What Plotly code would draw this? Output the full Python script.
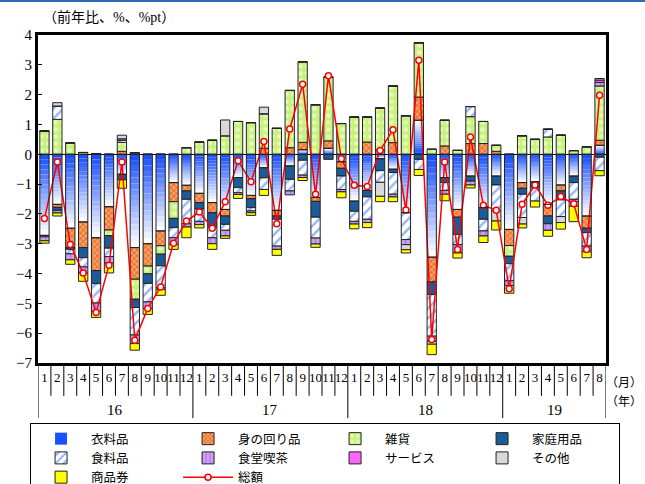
import plotly.graph_objects as go

# ---------------- data ----------------
months = ["1","2","3","4","5","6","7","8","9","10","11","12",
          "1","2","3","4","5","6","7","8","9","10","11","12",
          "1","2","3","4","5","6","7","8","9","10","11","12",
          "1","2","3","4","5","6","7","8"]
years = ["16", "17", "18", "19"]
year_lengths = [12, 12, 12, 8]

clothing = [-2.72,-1.68,-2.48,-2.27,-2.80,-1.76,-0.67,-3.13,-3.00,-2.57,-0.95,-1.04,
            -1.31,-1.62,-1.85,-0.78,-1.38,-0.45,-1.88,-0.39,0.15,-1.45,0.20,-0.25,
            -1.57,-1.21,-0.15,-0.50,-1.96,1.14,-3.45,-0.78,-1.85,-0.73,-1.79,-0.73,
            -2.52,-0.95,-0.92,-1.68,-1.03,-0.73,-2.07,0.30]
accessories = [0,-0.10,-0.65,-0.86,-1.10,-0.78,0.10,-1.06,-0.75,-0.50,-0.64,-0.19,
               -0.31,-0.34,-0.22,0,-0.11,0.20,-0.19,0.22,0.25,-0.13,0.25,-0.22,
               0,0.41,0.15,0.39,0,0.78,-0.83,0.28,-0.26,0.36,0.36,0.10,
               -0.54,-0.19,0,-0.39,-0.20,0,-0.41,0.17]
sundries = [0.78,1.17,0.38,0.06,0.02,-0.19,0.30,-0.67,-0.26,-0.28,-0.56,0.22,
            0.41,0.47,0.62,1.10,1.06,1.16,0.87,1.92,2.70,1.66,2.13,1.03,
            1.25,0.84,1.40,1.90,1.29,1.82,0.17,0.86,0.13,0.90,0.74,0.20,
            -0.36,0.62,0.50,0.58,0.64,0.12,0.25,1.82]
household = [0,-0.10,-0.06,-0.34,-0.44,-0.42,-0.19,-0.28,-0.32,-0.39,-0.31,-0.28,
             -0.22,-0.50,-0.28,-0.34,-0.30,-0.34,-0.11,-0.45,-0.20,-0.53,-0.17,-0.26,
             -0.34,-0.22,-0.40,-0.11,0,-0.17,-0.42,-0.17,-0.58,-0.17,-0.39,-0.30,
             -0.25,-0.20,-0.20,-0.26,-0.30,-0.22,-0.15,-0.10]
food = [-0.05,0.45,-0.15,-0.31,-0.65,-0.28,0.07,-0.92,-0.62,-0.73,-0.34,-0.82,
        -0.41,-0.34,-0.20,-0.17,-0.11,-0.39,-0.90,-0.39,-0.50,-0.70,0,-0.45,
        -0.34,-0.75,-0.39,-0.73,-0.90,-0.34,-1.40,-0.26,-0.34,0.34,-0.39,-0.87,
        -0.57,-0.78,-0.45,0.26,-0.56,-0.56,-0.45,-0.45]
restaurant = [-0.13,-0.09,-0.20,-0.20,-0.28,-0.22,0,-0.29,-0.22,-0.06,-0.22,-0.11,
              -0.11,-0.20,-0.19,-0.06,-0.06,0,-0.11,-0.13,-0.08,-0.20,0,-0.08,
              -0.09,-0.11,0,-0.09,-0.17,0,-0.17,-0.13,-0.28,-0.13,-0.17,0,
              -0.16,0,0,-0.22,0,-0.08,-0.19,0.12]
service = [0,0,0,0,0,0,0.05,0.05,0,0,0,0,
           0,0,0,0,0,0,0,0,0,0,0,0,
           0,0,0,0,0,0,0,0,0,0,0,0,
           0,0,0,0,0,0,0,0.08]
other = [0,0.11,0,0,0,0,0.12,0,0,0,0,0,
         0,0,0.53,0,0,0.22,0,0,0,0,0,0,
         0,0,-0.47,0,-0.17,0,-0.10,0,0,0,0,-0.34,
         0,-0.22,0,0,-0.20,-0.15,0,0.05]
giftcert = [-0.08,-0.10,-0.15,-0.28,-0.20,-0.33,-0.28,-0.22,-0.20,-0.20,-0.17,-0.36,
            -0.11,-0.19,-0.08,-0.13,-0.09,-0.20,-0.20,0,-0.10,-0.11,0,-0.20,
            -0.16,-0.17,-0.18,-0.16,-0.11,-0.20,-0.35,-0.22,-0.17,-0.10,-0.22,-0.30,
            -0.26,-0.13,-0.20,-0.20,-0.22,-0.52,-0.20,-0.17]
total = [-2.15,-0.26,-3.03,-3.98,-5.31,-3.72,-0.26,-6.24,-5.17,-4.45,-2.98,-2.24,
         -1.94,-2.48,-1.59,-0.22,-0.92,0.43,-2.33,0.85,2.35,-1.34,2.63,-0.15,
         -1.04,-1.08,0.13,0.82,-1.87,3.15,-6.21,-0.26,-3.19,0.58,-1.71,-1.88,
         -4.51,-1.68,-1.03,-1.71,-1.42,-1.66,-3.19,1.98]

# ---------------- figure ----------------
FONT = "Liberation Serif, Noto Sans CJK JP, serif"
x = list(range(len(months)))
W = 0.72
OUT = dict(color="#222222", width=1)

fig = go.Figure()

# clothing drawn as a gradient (slices of the same value, no outline)
N = 16
c0 = (25, 80, 255)
c1 = (252, 252, 255)
for k in range(N):
    t = k / (N - 1)
    col = "rgb(%d,%d,%d)" % tuple(int(c0[j] + (c1[j] - c0[j]) * t) for j in range(3))
    fig.add_trace(go.Bar(
        x=x, y=[v / N for v in clothing], width=W,
        marker=dict(color=col, line=dict(width=0)),
        name="衣料品", legendgroup="cloth", showlegend=(k == 0),
        hoverinfo="skip"))

def seg(name, vals, color, pattern=None):
    m = dict(color=color, line=OUT)
    if pattern:
        m["pattern"] = pattern
    fig.add_trace(go.Bar(x=x, y=vals, width=W, name=name, marker=m))

seg("身の回り品", accessories, "#f07a32",
    dict(shape="x", fgcolor="#ffffff", size=4, solidity=0.35, fillmode="overlay"))
seg("雑貨", sundries, "#c9f27c",
    dict(shape=".", fgcolor="#ffffff", size=7, solidity=0.35, fillmode="overlay"))
seg("家庭用品", household, "#1c5a98")
seg("食料品", food, "#ffffff",
    dict(shape="/", fgcolor="#2a6ff0", size=7, solidity=0.35, fillmode="overlay"))
seg("食堂喫茶", restaurant, "#c9a4f2",
    dict(shape="|", fgcolor="#8a52c8", size=5, solidity=0.3, fillmode="overlay"))
seg("サービス", service, "#ff66ff")
seg("その他", other, "#d9d9d9")
seg("商品券", giftcert, "#ffff00")

fig.add_trace(go.Scatter(
    x=x, y=total, name="総額", mode="lines+markers",
    line=dict(color="#ff0000", width=1.5),
    marker=dict(symbol="circle", size=6, color="#ffffff",
                line=dict(color="#ff0000", width=1.5))))

# outline for clothing segments on an overlaid axis pair
fig.add_trace(go.Bar(
    x=x, y=clothing, width=W, xaxis="x2", yaxis="y2",
    marker=dict(color="rgba(0,0,0,0)", line=OUT),
    showlegend=False, hoverinfo="skip"))

# ---------------- axes decorations ----------------
shapes = []
bounds = [-0.5]
for n in year_lengths:
    bounds.append(bounds[-1] + n)
for i in range(len(months) + 1):
    xb = i - 0.5
    long_ = xb in bounds
    shapes.append(dict(type="line", xref="x", yref="paper",
                       x0=xb, x1=xb, y0=0, y1=(-0.168 if long_ else -0.1),
                       line=dict(color="black", width=1)))
# thin blue rule at the top of the page
shapes.append(dict(type="line", xref="paper", yref="paper",
                   x0=-38/568, x1=607/568, y0=1 + 34/328, y1=1 + 34/328,
                   line=dict(color="#2f6db3", width=2)))

annotations = []
for yl, a, b in zip(years, bounds[:-1], bounds[1:]):
    annotations.append(dict(x=(a + b) / 2, y=-0.143, xref="x", yref="paper",
                            text=yl, showarrow=False, yanchor="middle",
                            font=dict(size=15, family=FONT, color="black")))
annotations.append(dict(x=(644 - 38) / 568, y=-0.061, xref="paper", yref="paper",
                        text="（月）", showarrow=False, xanchor="right", yanchor="middle",
                        font=dict(size=12, family=FONT, color="black")))
annotations.append(dict(x=(644 - 38) / 568, y=-0.119, xref="paper", yref="paper",
                        text="（年）", showarrow=False, xanchor="right", yanchor="middle",
                        font=dict(size=12, family=FONT, color="black")))
annotations.append(dict(x=0.005, y=1 + 18/328, xref="paper", yref="paper",
                        text="（前年比、%、%pt）", showarrow=False,
                        xanchor="left", yanchor="middle",
                        font=dict(size=14, family=FONT, color="black")))

fig.update_layout(
    width=645, height=484,
    margin=dict(l=38, r=39, t=35, b=121, autoexpand=False),
    paper_bgcolor="white", plot_bgcolor="white",
    barmode="relative",
    font=dict(family=FONT, size=14, color="black"),
    xaxis=dict(range=[-0.5, 43.5], tickmode="array", tickvals=x, ticktext=months,
               ticks="", showgrid=False, zeroline=False, tickangle=0,
               showline=True, linecolor="black", linewidth=3, mirror=True,
               tickfont=dict(size=13, family=FONT, color="black")),
    yaxis=dict(range=[-7, 4], dtick=1, tick0=0, ticks="inside", ticklen=4,
               tickcolor="black", showgrid=False,
               zeroline=True, zerolinecolor="black", zerolinewidth=1,
               showline=True, linecolor="black", linewidth=3, mirror=True,
               tickfont=dict(size=15, family=FONT, color="black")),
    xaxis2=dict(range=[-0.5, 43.5], overlaying="x", visible=False),
    yaxis2=dict(range=[-7, 4], overlaying="y", visible=False),
    legend=dict(orientation="h", x=-0.014, xanchor="left", y=-0.183, yanchor="top",
                bordercolor="black", borderwidth=1, bgcolor="white",
                itemwidth=50,
                entrywidth=82, entrywidthmode="pixels", traceorder="normal",
                font=dict(size=12.5, family=FONT, color="black"), tracegroupgap=0),
    shapes=shapes, annotations=annotations,
    showlegend=True,
)

fig.write_html("out.html")
